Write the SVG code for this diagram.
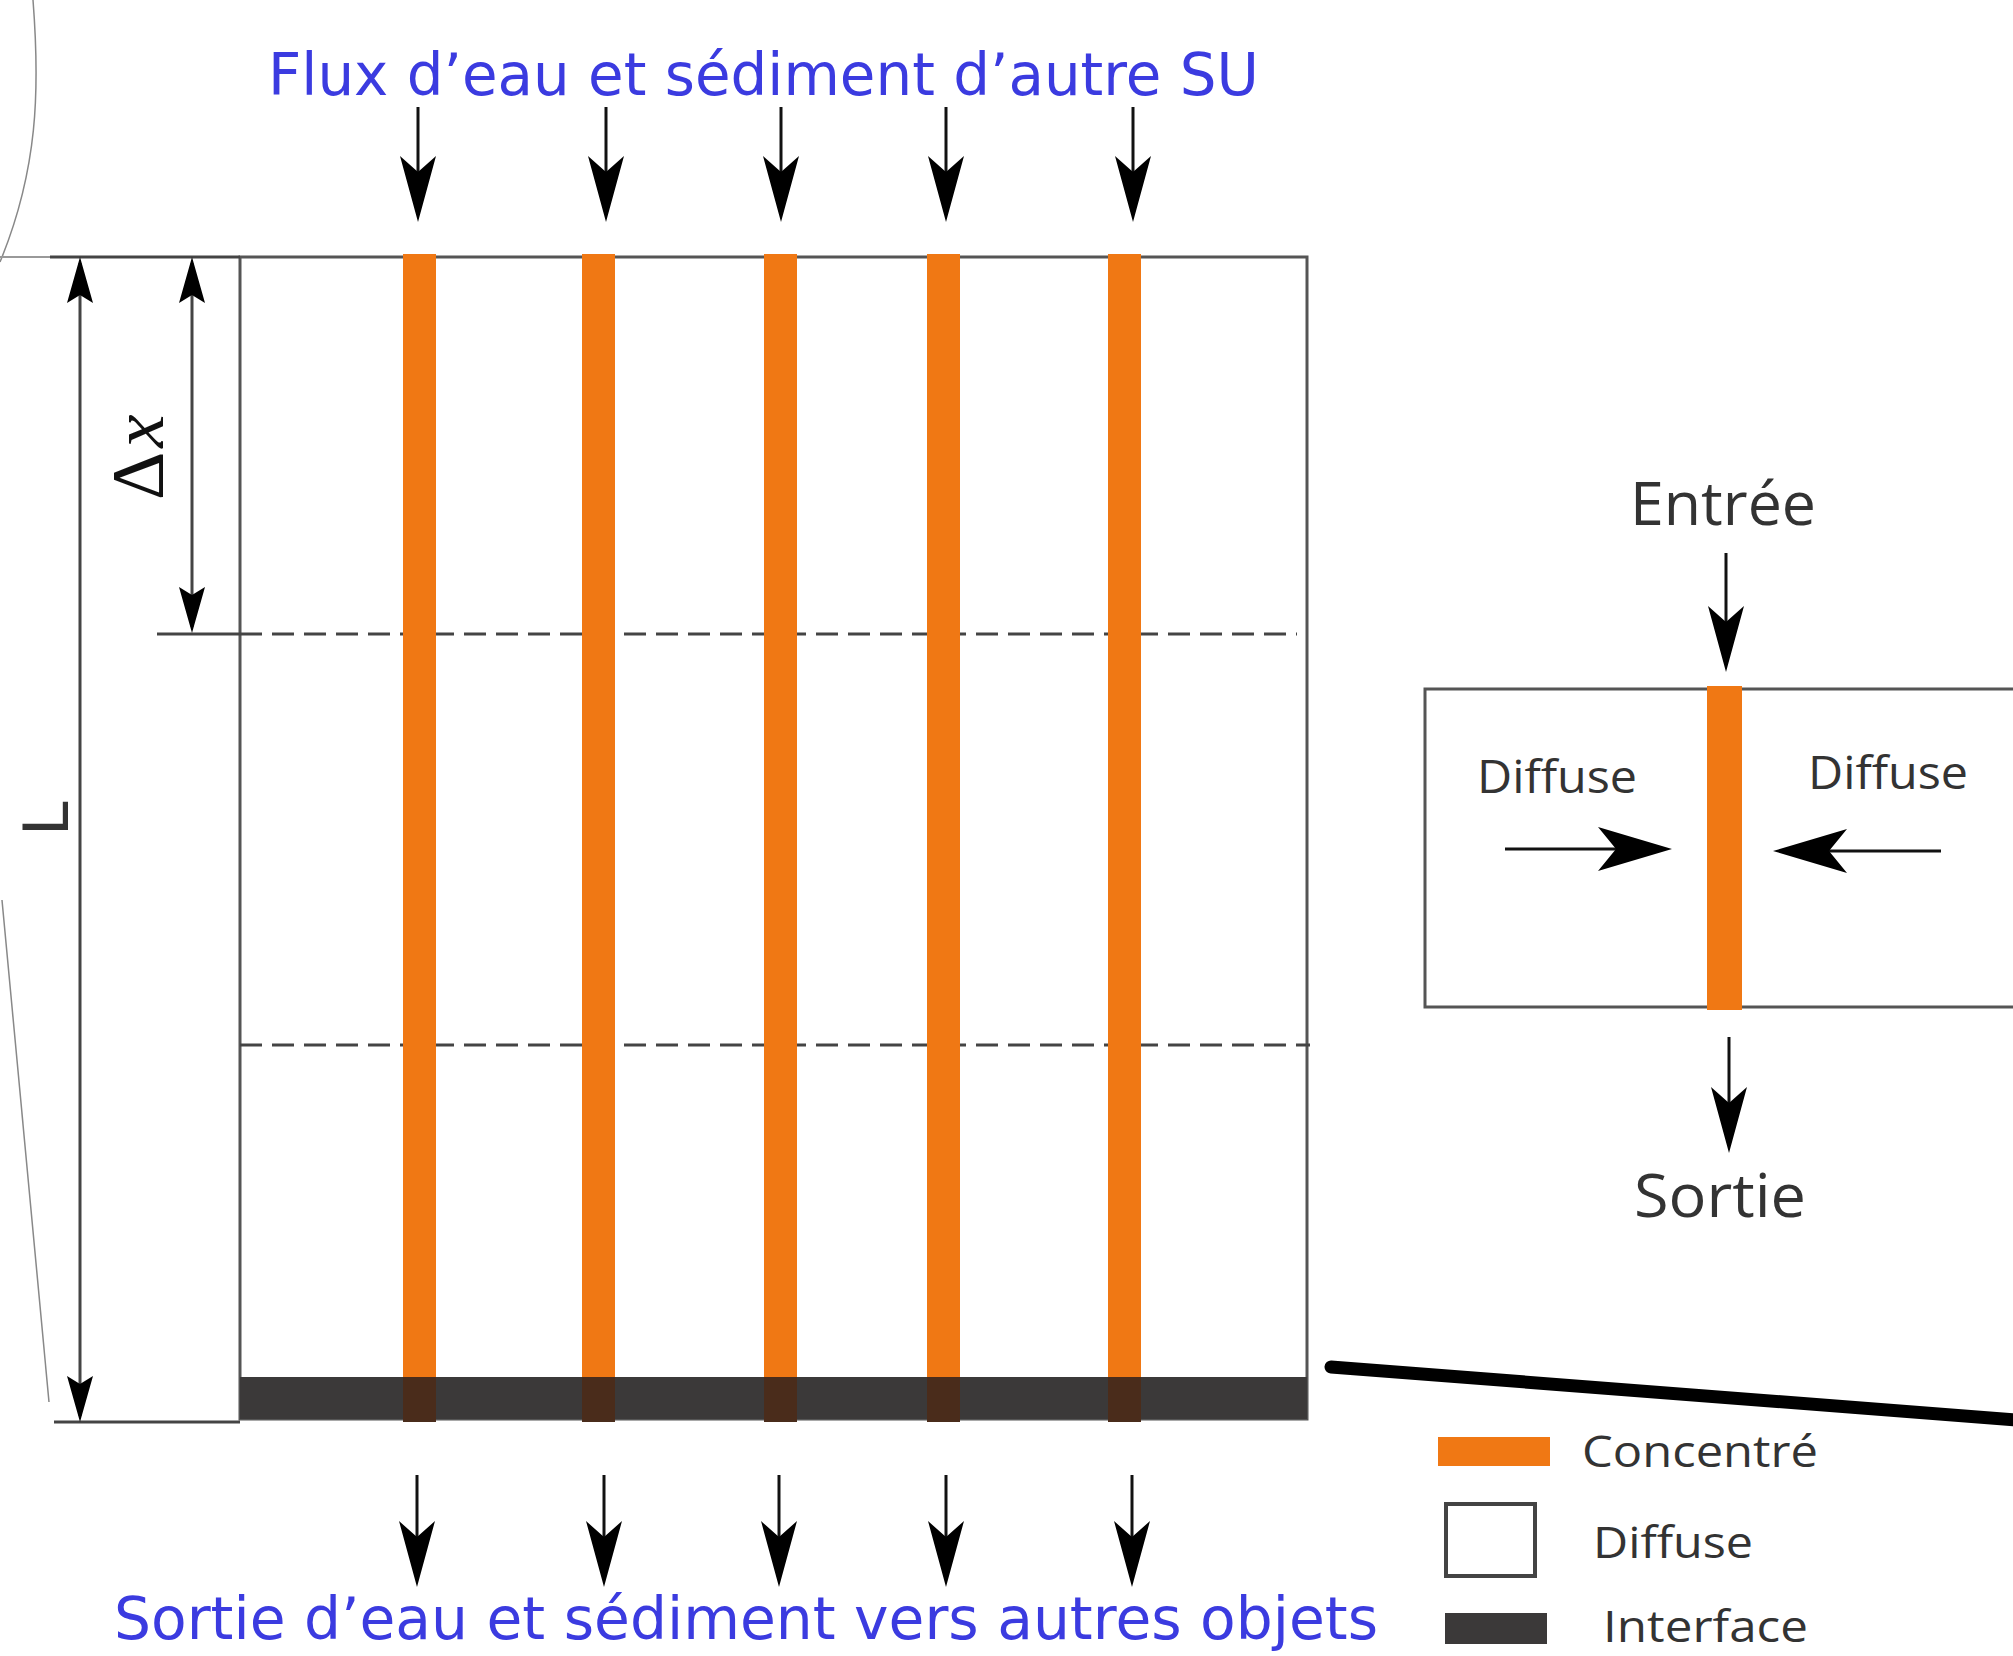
<svg xmlns="http://www.w3.org/2000/svg" width="2013" height="1656" viewBox="0 0 2013 1656">
<style>
.frame{fill:none;stroke:#555;stroke-width:3}
.bar{fill:#f07814}
.iface{fill:#3b3939}
.cross{fill:#4a2c1b}
.dash{fill:none;stroke:#444;stroke-width:3;stroke-dasharray:22 10}
.dim{fill:none;stroke:#444;stroke-width:3}
.arr{fill:none;stroke:#111;stroke-width:3}
.blue{font-family:"DejaVu Sans",Verdana,sans-serif;font-size:58px;fill:#3b3be0}
.lbl{font-family:"Open Sans","Liberation Sans",sans-serif;fill:#333}
.faint{fill:none;stroke:#888;stroke-width:1.5}
</style>
<defs>
<marker id="head" viewBox="0 0 66 36" refX="36" refY="18" markerWidth="66" markerHeight="36" markerUnits="userSpaceOnUse" orient="auto">
<path d="M0,0 L66,18 L0,36 L16,18 Z" fill="#000"/>
</marker>
<marker id="headH" viewBox="0 0 74 44" refX="44" refY="22" markerWidth="74" markerHeight="44" markerUnits="userSpaceOnUse" orient="auto">
<path d="M0,0 L74,22 L0,44 L18,22 Z" fill="#000"/>
</marker>
<marker id="dimHead" viewBox="0 0 46 26" refX="40" refY="13" markerWidth="46" markerHeight="26" markerUnits="userSpaceOnUse" orient="auto-start-reverse">
<path d="M0,0 L46,13 L0,26 L8,13 Z" fill="#000"/>
</marker>
</defs>
<rect width="2013" height="1656" fill="#fff"/>

<g id="decor">
<path class="faint" d="M33,0 C40,90 38,170 0,262"/>
<path class="faint" d="M2,900 C12,1000 30,1200 49,1402"/>
<line x1="0" y1="257" x2="50" y2="257" stroke="#999" stroke-width="2"/>
</g>

<g id="main-unit">
<rect class="frame" x="240" y="257" width="1067" height="1162"/>
<line class="dash" x1="240" y1="634" x2="1297" y2="634"/>
<line class="dash" x1="240" y1="1045" x2="1310" y2="1045"/>
<rect class="bar" x="403" y="254" width="33" height="1168"/>
<rect class="bar" x="582" y="254" width="33" height="1168"/>
<rect class="bar" x="764" y="254" width="33" height="1168"/>
<rect class="bar" x="927" y="254" width="33" height="1168"/>
<rect class="bar" x="1108" y="254" width="33" height="1168"/>
<rect class="iface" x="240" y="1377" width="1067" height="42"/>
<rect class="cross" x="403" y="1377" width="33" height="45"/>
<rect class="cross" x="582" y="1377" width="33" height="45"/>
<rect class="cross" x="764" y="1377" width="33" height="45"/>
<rect class="cross" x="927" y="1377" width="33" height="45"/>
<rect class="cross" x="1108" y="1377" width="33" height="45"/>
</g>

<g id="dimensions">
<line class="dim" x1="50" y1="257" x2="240" y2="257"/>
<line class="dim" x1="54" y1="1422" x2="240" y2="1422"/>
<line class="dim" x1="157" y1="634" x2="240" y2="634"/>
<line class="dim" x1="80" y1="263" x2="80" y2="1416" marker-start="url(#dimHead)" marker-end="url(#dimHead)"/>
<line class="dim" x1="192" y1="263" x2="192" y2="627" marker-start="url(#dimHead)" marker-end="url(#dimHead)"/>
<text transform="translate(163,500) rotate(-90)" font-family="'Liberation Serif',serif" font-size="75" fill="#111">Δ<tspan dx="4" font-style="italic">x</tspan></text>
<text transform="translate(68,836) rotate(-90)" font-family="'DejaVu Sans',sans-serif" font-size="62" fill="#333">L</text>
</g>

<g id="inset">
<rect class="frame" x="1425" y="689" width="620" height="318" stroke-width="3.5"/>
<rect class="bar" x="1707" y="686" width="35" height="324"/>
<text class="lbl" x="1630" y="525" font-size="60" textLength="186" lengthAdjust="spacingAndGlyphs">Entrée</text>
<text class="lbl" x="1634" y="1217" font-size="60" textLength="172" lengthAdjust="spacingAndGlyphs">Sortie</text>
<text class="lbl" x="1477" y="793" font-size="46" textLength="160" lengthAdjust="spacingAndGlyphs">Diffuse</text>
<text class="lbl" x="1808" y="789" font-size="46" textLength="160" lengthAdjust="spacingAndGlyphs">Diffuse</text>
</g>

<g id="link">
<line x1="1331" y1="1367" x2="2030" y2="1421" stroke="#000" stroke-width="13" stroke-linecap="round"/>
</g>

<g id="legend">
<rect class="bar" x="1438" y="1437" width="112" height="29"/>
<text class="lbl" x="1582" y="1467" font-size="44" textLength="236" lengthAdjust="spacingAndGlyphs">Concentré</text>
<rect x="1446" y="1504" width="89" height="72" fill="#fff" stroke="#444" stroke-width="4"/>
<text class="lbl" x="1593" y="1558" font-size="44" textLength="160" lengthAdjust="spacingAndGlyphs">Diffuse</text>
<rect class="iface" x="1445" y="1613" width="102" height="31"/>
<text class="lbl" x="1603" y="1642" font-size="44" textLength="205" lengthAdjust="spacingAndGlyphs">Interface</text>
</g>

<g id="titles">
<text class="blue" x="268" y="95" textLength="991" lengthAdjust="spacingAndGlyphs">Flux d’eau et sédiment d’autre SU</text>
<text class="blue" x="114" y="1639" textLength="1264" lengthAdjust="spacingAndGlyphs">Sortie d’eau et sédiment vers autres objets</text>
</g>

<g id="connectors">
<line class="arr" x1="418" y1="107" x2="418" y2="192" marker-end="url(#head)"/>
<line class="arr" x1="606" y1="107" x2="606" y2="192" marker-end="url(#head)"/>
<line class="arr" x1="781" y1="107" x2="781" y2="192" marker-end="url(#head)"/>
<line class="arr" x1="946" y1="107" x2="946" y2="192" marker-end="url(#head)"/>
<line class="arr" x1="1133" y1="107" x2="1133" y2="192" marker-end="url(#head)"/>
<line class="arr" x1="417" y1="1475" x2="417" y2="1557" marker-end="url(#head)"/>
<line class="arr" x1="604" y1="1475" x2="604" y2="1557" marker-end="url(#head)"/>
<line class="arr" x1="779" y1="1475" x2="779" y2="1557" marker-end="url(#head)"/>
<line class="arr" x1="946" y1="1475" x2="946" y2="1557" marker-end="url(#head)"/>
<line class="arr" x1="1132" y1="1475" x2="1132" y2="1557" marker-end="url(#head)"/>
<line class="arr" x1="1726" y1="553" x2="1726" y2="642" marker-end="url(#head)"/>
<line class="arr" x1="1729" y1="1037" x2="1729" y2="1123" marker-end="url(#head)"/>
<line class="arr" x1="1505" y1="849" x2="1642" y2="849" marker-end="url(#headH)"/>
<line class="arr" x1="1941" y1="851" x2="1803" y2="851" marker-end="url(#headH)"/>
</g>
</svg>
